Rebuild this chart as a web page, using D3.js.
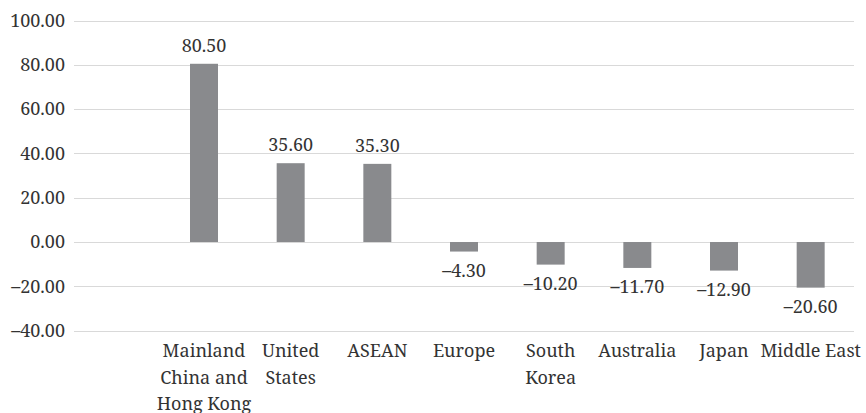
<!DOCTYPE html>
<html>
<head>
<meta charset="utf-8">
<script src="https://cdn.jsdelivr.net/npm/d3@7"></script>
<style>
  html, body { margin: 0; padding: 0; background: #fff; }
  svg { display: block; }
</style>
</head>
<body>
<svg id="chart" width="866" height="413"></svg>
<script>
// Regions and their change values
const categories = [
  "Mainland\nChina and\nHong Kong",
  "United\nStates",
  "ASEAN",
  "Europe",
  "South\nKorea",
  "Australia",
  "Japan",
  "Middle East"
];
const values = [80.50, 35.60, 35.30, -4.30, -10.20, -11.70, -12.90, -20.60];
const yTicks = [-40, -20, 0, 20, 40, 60, 80, 100];

const svg = d3.select("#chart");
const plot = { left: 74, right: 854, top: 20.6, bottom: 330.6 };
const textColor = "#333333";
const fontFamily = '"Noto Serif", serif';
const fontSize = "18px";

// One empty slot is left at the start of the category axis
const slot = (plot.right - plot.left) / (categories.length + 1);
const x = d3.scaleBand()
  .domain(categories)
  .range([plot.left + slot, plot.right])
  .paddingInner(0.677)
  .paddingOuter(0.3385);

const y = d3.scaleLinear()
  .domain([d3.min(yTicks), d3.max(yTicks)])
  .range([plot.bottom, plot.top]);

const locale = d3.formatLocale({ decimal: ".", thousands: ",", grouping: [3], currency: ["", ""], minus: "\u2013" });
const fmt = locale.format(".2f");

function styleText(sel) {
  sel.style("font-family", fontFamily)
     .style("font-size", fontSize)
     .attr("fill", textColor);
}

// Gridlines
svg.append("g")
  .selectAll("line")
  .data(yTicks)
  .join("line")
  .attr("x1", plot.left)
  .attr("x2", plot.right)
  .attr("y1", d => Math.round(y(d)) + 0.5)
  .attr("y2", d => Math.round(y(d)) + 0.5)
  .attr("stroke", "#d9d9d9")
  .attr("stroke-width", 1.2);

// Value axis labels
const yAxis = d3.axisLeft(y)
  .tickValues(yTicks)
  .tickFormat(fmt)
  .tickSize(0)
  .tickPadding(9);
const gy = svg.append("g")
  .attr("transform", `translate(${plot.left},0)`)
  .call(yAxis);
gy.select(".domain").remove();
gy.selectAll("text").call(styleText);

// Bars
svg.append("g")
  .selectAll("rect")
  .data(values)
  .join("rect")
  .attr("x", (d, i) => x(categories[i]))
  .attr("width", x.bandwidth())
  .attr("y", d => y(Math.max(0, d)))
  .attr("height", d => Math.abs(y(d) - y(0)))
  .attr("fill", "#898a8d");

// Value labels
svg.append("g")
  .selectAll("text")
  .data(values)
  .join("text")
  .attr("x", (d, i) => x(categories[i]) + x.bandwidth() / 2)
  .attr("y", d => d >= 0 ? y(d) - 12 : y(d) + 25.5)
  .attr("text-anchor", "middle")
  .call(styleText)
  .text(d => fmt(d));

// Category labels
const xl = svg.append("g")
  .selectAll("text")
  .data(categories)
  .join("text")
  .attr("x", d => x(d) + x.bandwidth() / 2)
  .attr("y", 357)
  .attr("text-anchor", "middle")
  .call(styleText);
xl.each(function(d) {
  const t = d3.select(this);
  d.split("\n").forEach((line, k) => {
    t.append("tspan")
      .attr("x", t.attr("x"))
      .attr("dy", k === 0 ? 0 : 26.5)
      .text(line);
  });
});
</script>
</body>
</html>
